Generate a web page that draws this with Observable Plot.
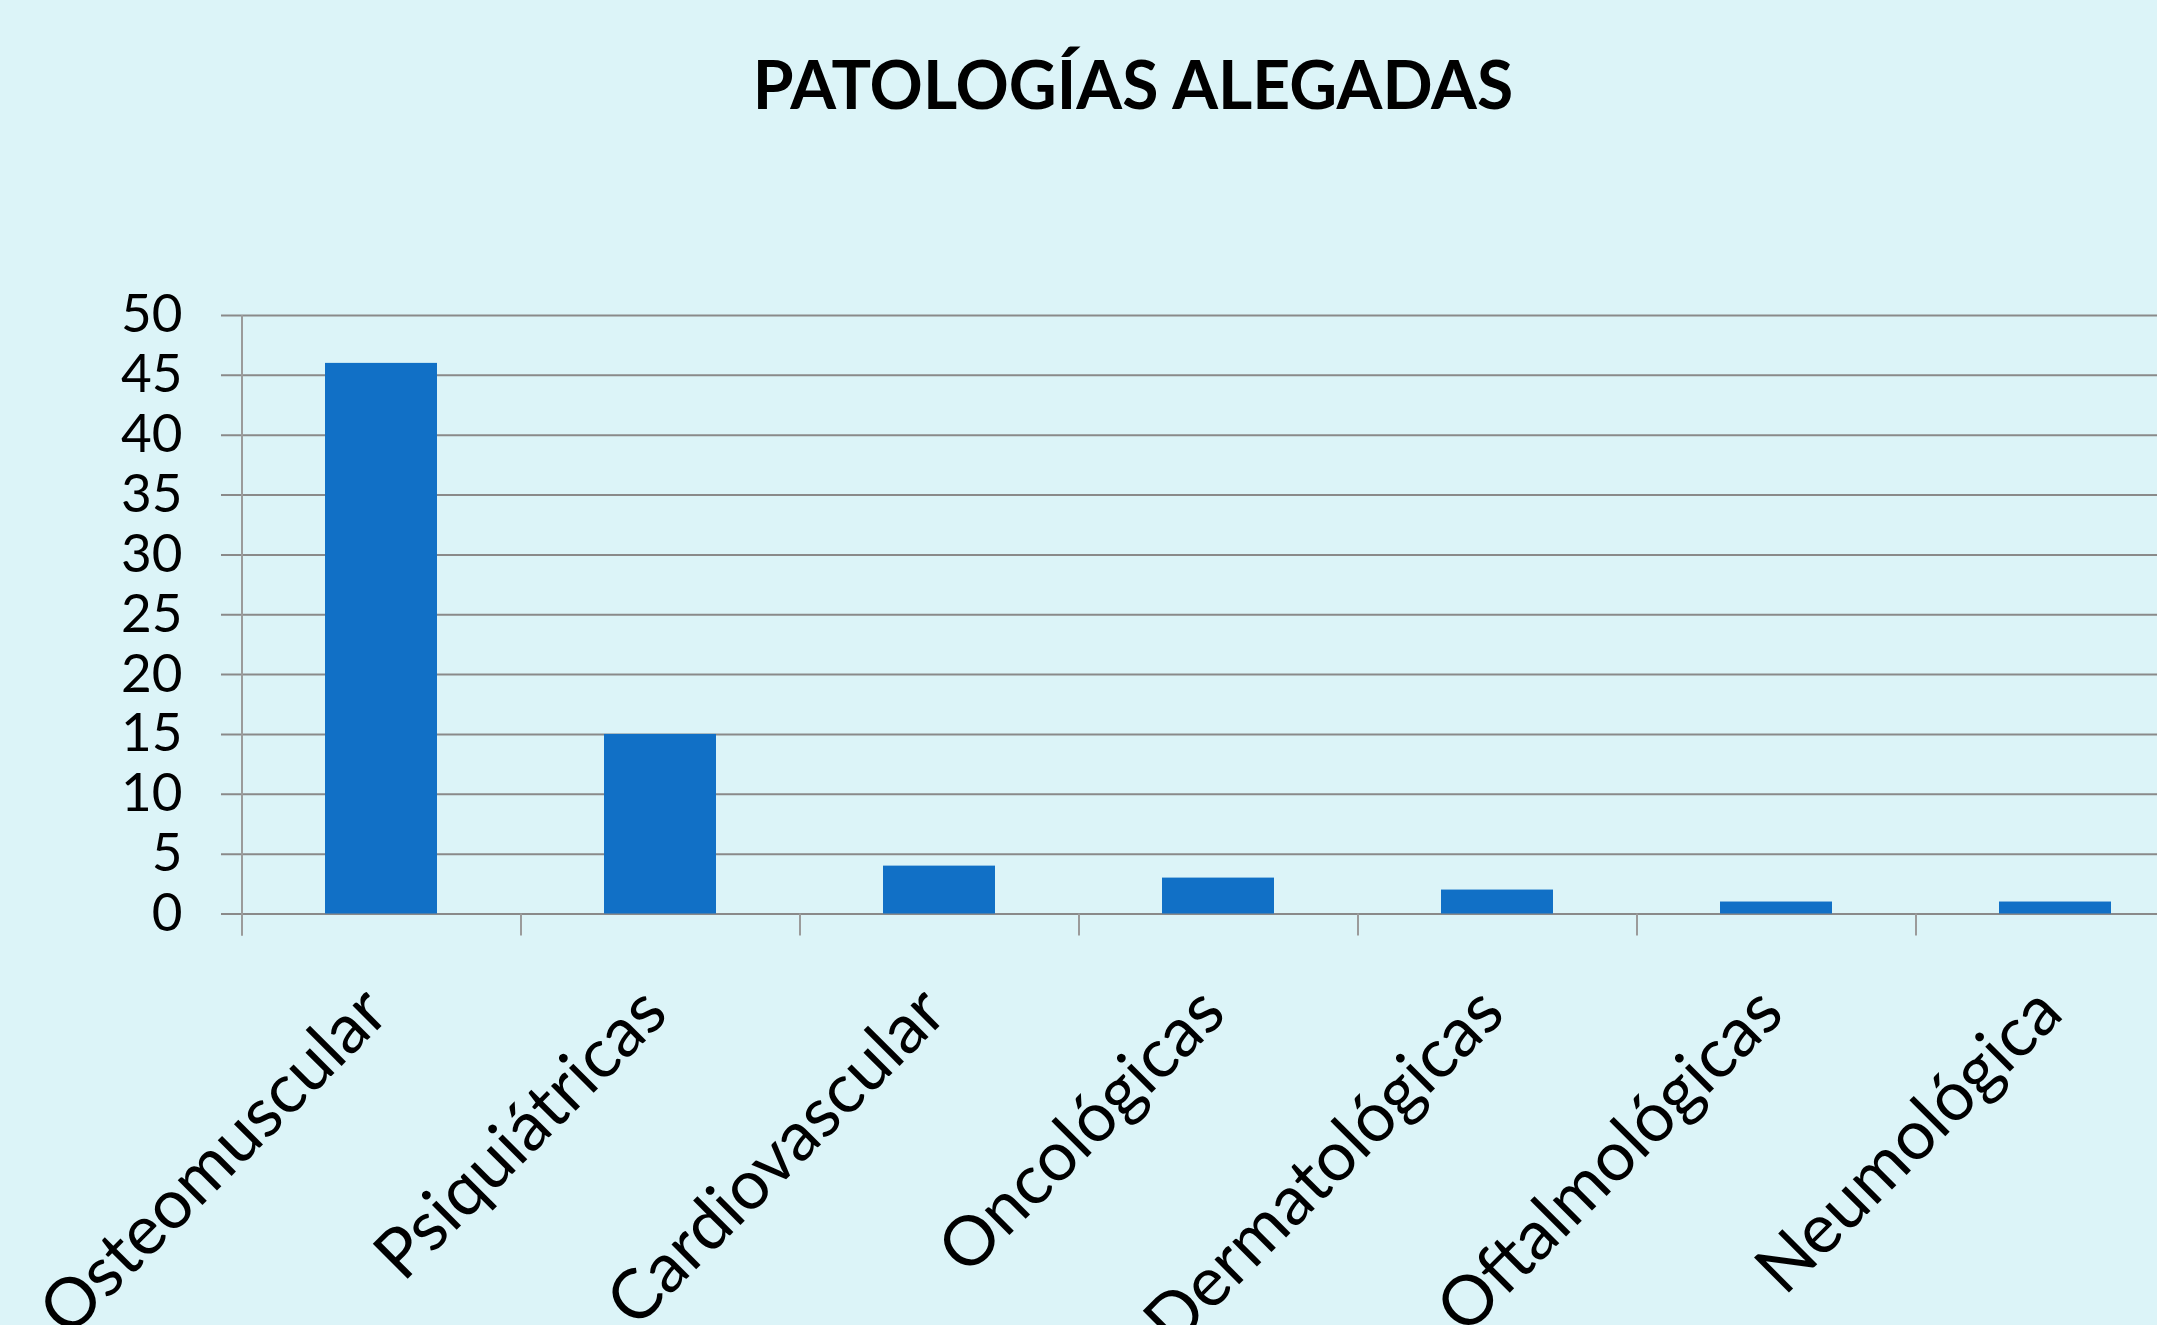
<!DOCTYPE html>
<html>
<head>
<meta charset="utf-8">
<script src="https://cdn.jsdelivr.net/npm/d3@7"></script>
<script src="https://cdn.jsdelivr.net/npm/@observablehq/plot@0.6"></script>
<style>
  html, body { margin: 0; padding: 0; background: #dcf4f8; overflow: hidden; width: 2157px; height: 1325px; }
  #title { position: relative; height: 150px; }
  #title span { position: absolute; left: 1133px; top: 51px; transform: translateX(-50%); white-space: nowrap;
    font-family: Lato, "Open Sans", sans-serif; font-weight: 700; font-size: 66px; line-height: 1; color: #000; }
  #chart svg { display: block; }
</style>
</head>
<body>
<div id="title"><span>PATOLOGÍAS ALEGADAS</span></div>
<div id="chart"></div>
<script>
const categories = ["Osteomuscular", "Psiquiátricas", "Cardiovascular", "Oncológicas", "Dermatológicas", "Oftalmológicas", "Neumológica"];
const values = [46, 15, 4, 3, 2, 1, 1];
const yTicks = [0, 5, 10, 15, 20, 25, 30, 35, 40, 45, 50];

const data = categories.map((c, i) => ({category: c, value: values[i]}));

const W = 2157, H = 1175, mL = 241, mR = -37;
const step = (W - mR - mL) / categories.length;

const chart = Plot.plot({
  width: W,
  height: H,
  marginLeft: mL,
  marginRight: mR,
  marginTop: 165,
  marginBottom: 411.5,
  style: {background: "transparent", overflow: "visible", fontFamily: "Lato, 'Open Sans', sans-serif", color: "#000"},
  x: {domain: categories, paddingInner: 0.6, paddingOuter: 0.3, axis: null},
  y: {domain: [0, 50], axis: null},
  marks: [
    Plot.ruleY(yTicks, {stroke: "#8a8a8a", strokeWidth: 2, insetLeft: -20}),
    Plot.ruleX(categories.slice(0, 1), {x: d => d, y1: 50, y2: 0, dx: -step / 2, insetBottom: -22, stroke: "#9b9b9b", strokeWidth: 2}),
    Plot.ruleX(categories, {x: d => d, y1: 0, y2: 0, dx: -step / 2, insetBottom: -22, stroke: "#9b9b9b", strokeWidth: 2}),
    Plot.barY(data, {x: "category", y: "value", fill: "#1170c6"}),
    Plot.axisY({ticks: yTicks, label: null, tickSize: 0, tickPadding: 59, fontSize: 53, tickFormat: d => String(d), fill: "#000"}),
    Plot.text(categories, {x: d => d, text: d => d, frameAnchor: "bottom", rotate: -45, textAnchor: "end", lineAnchor: "bottom",
      fontSize: 69, dx: 10, dy: 102, fill: "#000"})
  ]
});
document.getElementById("chart").appendChild(chart);
</script>
</body>
</html>
